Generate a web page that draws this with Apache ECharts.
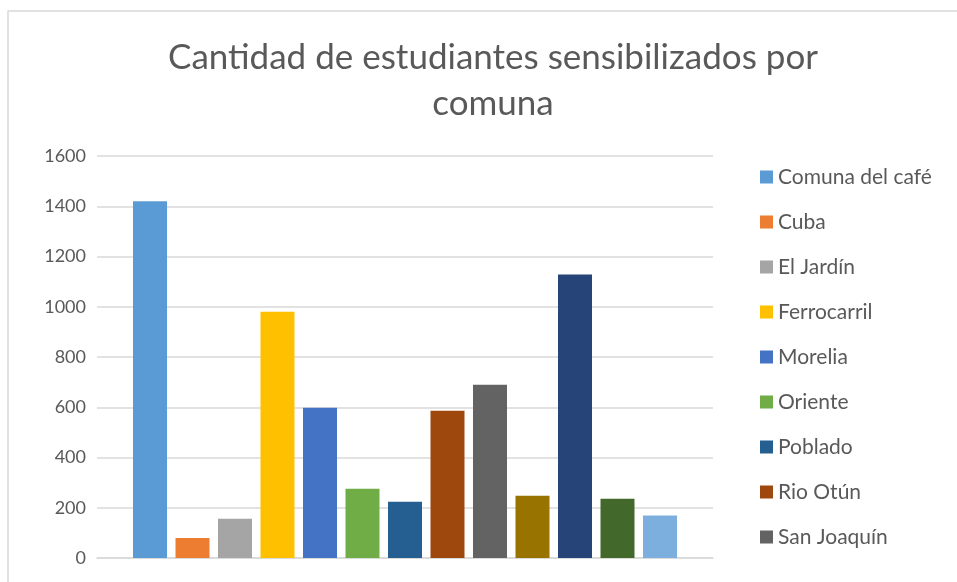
<!DOCTYPE html>
<html>
<head>
<meta charset="utf-8">
<script src="https://cdn.jsdelivr.net/npm/echarts@6/dist/echarts.min.js"></script>
<style>
  html, body { margin: 0; padding: 0; background: #fff; }
  #chart { width: 957px; height: 582px; }
</style>
</head>
<body>
<div id="chart"></div>
<script>
// Chart data
const comunas = [
  "Comuna del café", "Cuba", "El Jardín", "Ferrocarril", "Morelia", "Oriente",
  "Poblado", "Rio Otún", "San Joaquín", "San Nicolás", "Universidad",
  "Villa Santana", "Villavicencio"
];
const estudiantes = [1420, 80, 156, 980, 598, 276, 224, 586, 690, 248, 1128, 236, 169];
const colores = [
  "#5B9BD5", "#ED7D31", "#A5A5A5", "#FFC000", "#4472C4", "#70AD47",
  "#255E91", "#9E480E", "#636363", "#997300", "#264478", "#43682B", "#7CAFDD"
];
const yTicks = [0, 200, 400, 600, 800, 1000, 1200, 1400, 1600];
// only the first entries fit in the legend box of the original
const legendVisible = 9;

const chart = echarts.init(document.getElementById("chart"));
const fontFam = "Lato, 'Open Sans', sans-serif";

// one series per comuna, each a single bar in the same category
const series = comunas.map((name, i) => ({
  name: name,
  type: "bar",
  data: [estudiantes[i]],
  barWidth: 34,
  barGap: "25%",
  itemStyle: { color: colores[i] }
}));

chart.setOption({
  animation: false,
  title: {
    text: "Cantidad de estudiantes sensibilizados por\ncomuna",
    left: 488,
    textAlign: "center",
    top: 30,
    textStyle: {
      fontFamily: fontFam,
      fontSize: 35,
      fontWeight: "normal",
      color: "#595959",
      lineHeight: 46
    }
  },
  legend: {
    orient: "vertical",
    left: 755,
    top: 161,
    height: 1200,
    icon: "rect",
    itemWidth: 13,
    itemHeight: 13,
    itemGap: 23,
    textStyle: {
      fontFamily: fontFam,
      fontSize: 21,
      color: "#595959",
      lineHeight: 22
    },
    data: comunas.slice(0, legendVisible)
  },
  grid: { left: 97, right: 244, top: 156, bottom: 24, containLabel: false },
  xAxis: {
    type: "category",
    data: [""],
    axisLine: { show: true, lineStyle: { color: "#d9d9d9", width: 1.5 } },
    axisTick: { show: false },
    axisLabel: { show: false }
  },
  yAxis: {
    type: "value",
    min: yTicks[0],
    max: yTicks[yTicks.length - 1],
    interval: 200,
    axisLine: { show: false },
    axisTick: { show: false },
    axisLabel: {
      fontFamily: fontFam,
      fontSize: 18,
      color: "#595959",
      margin: 11,
      formatter: v => String(v)
    },
    splitLine: { lineStyle: { color: "#d9d9d9", width: 1.5 } }
  },
  graphic: [{
    type: "rect",
    shape: { x: 8, y: 11, width: 1000, height: 700 },
    style: { fill: null, stroke: "#d9d9d9", lineWidth: 1.5 },
    silent: true
  }],
  series: series
});
</script>
</body>
</html>
